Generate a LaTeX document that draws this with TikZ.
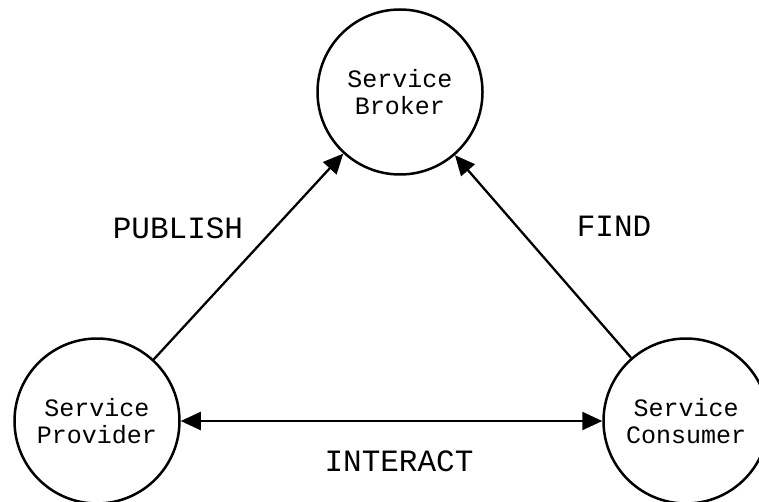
\documentclass[tikz,border=0pt]{standalone}
\usepackage{fontspec}
\usepackage{tikz}
\usetikzlibrary{arrows.meta}
\newfontfamily\courierfont{Liberation Mono}

\begin{document}
\begin{tikzpicture}[x=1pt, y=1pt,
	party/.style={draw, circle, line width=2.5pt, minimum size=165pt, inner sep=0pt, align=center,
		font=\courierfont\fontsize{25}{27}\selectfont},
	verb/.style={font=\courierfont\fontsize{31}{31}\selectfont},
	link/.style={line width=2.3pt, -{Triangle[length=20pt, width=18pt]}}]
			\useasboundingbox (0, 0) rectangle (759, 501);
			\node [party] (broker) at (400, 409) {Service\\Broker};
			\node [party] (provider) at (97, 80) {Service\\Provider};
			\node [party] (consumer) at (686, 80) {Service\\Consumer};
			\draw [link] (provider) -- (broker);
			\draw [link] (consumer) -- (broker);
			\draw [link, {Triangle[length=20pt, width=18pt]}-{Triangle[length=20pt, width=18pt]}] (provider) -- (consumer);
			\node [verb] (publish) at (178, 273) {PUBLISH};
			\node [verb] (find) at (614, 275) {FIND};
			\node [verb] (interact) at (399, 40) {INTERACT};
			\end{tikzpicture}
\end{document}
